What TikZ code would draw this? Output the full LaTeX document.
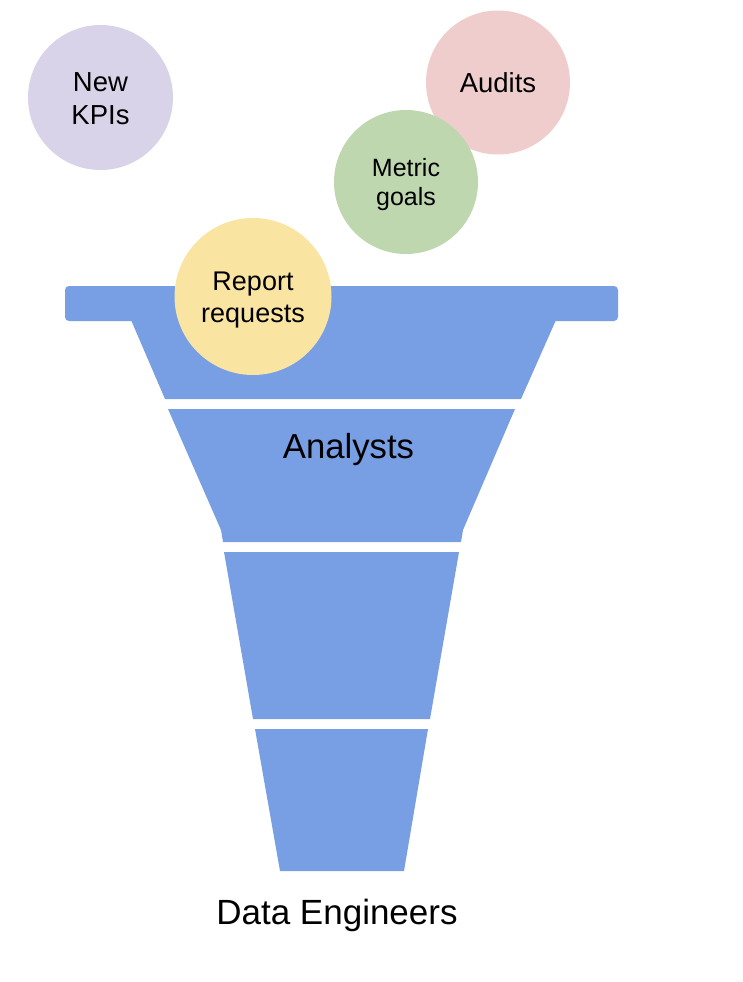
\documentclass[tikz,border=0pt]{standalone}
\usepackage{fontspec}
\setmainfont{Liberation Sans}
\definecolor{funnelblue}{RGB}{120,158,227}
\definecolor{kpipurple}{RGB}{217,211,233}
\definecolor{auditpink}{RGB}{239,205,205}
\definecolor{metricgreen}{RGB}{190,215,174}
\definecolor{reportyellow}{RGB}{249,228,161}
\begin{document}
\begin{tikzpicture}[x=1pt,y=-1pt,
  part/.style={fill=funnelblue,draw=none},
  bubble/.style={circle,draw=none,inner sep=0pt},
  btext/.style={inner sep=0pt,align=center},
  lbl/.style={inner sep=0pt,anchor=base}]
\useasboundingbox (0,0) rectangle (742,982);
% funnel
\fill[part,rounded corners=4pt] (65,286) rectangle (618,321);
\fill[part] (131,320) -- (556,320) -- (521,399) -- (165,399) -- cycle;
\fill[part] (168,409) -- (515,409) -- (463,530) -- (461,542) -- (223,542) -- (221,530) -- cycle;
\fill[part] (224,552) -- (459,552) -- (430,719) -- (253,719) -- cycle;
\fill[part] (255,729) -- (428,729) -- (404,871) -- (280,871) -- cycle;
% bubbles
\node[bubble,fill=kpipurple,minimum size=145pt] (kpi) at (100.5,97.5) {};
\node[bubble,fill=auditpink,minimum size=144pt] (audits) at (498,82.5) {};
\node[bubble,fill=metricgreen,minimum size=144pt] (metric) at (406,182) {};
\node[bubble,fill=reportyellow,minimum size=157pt] (report) at (253,296.5) {};
\node[btext,font=\fontsize{27.5}{33}\selectfont,yshift=-1.5pt] (kpitext) at (kpi) {New\\KPIs};
\node[btext,font=\fontsize{27.5}{33}\selectfont] (audittext) at (audits) {Audits};
\node[btext,font=\fontsize{25}{29}\selectfont,yshift=-3pt] (metrictext) at (metric) {Metric\\goals};
\node[btext,font=\fontsize{27}{32}\selectfont,yshift=-4pt] (reporttext) at (report) {Report\\requests};
% labels
\node[lbl,font=\fontsize{34.7}{40}\selectfont] (analysts) at (348.5,458) {Analysts};
\node[lbl,font=\fontsize{35}{40}\selectfont] (eng) at (337,924) {Data Engineers};
\end{tikzpicture}
\end{document}
